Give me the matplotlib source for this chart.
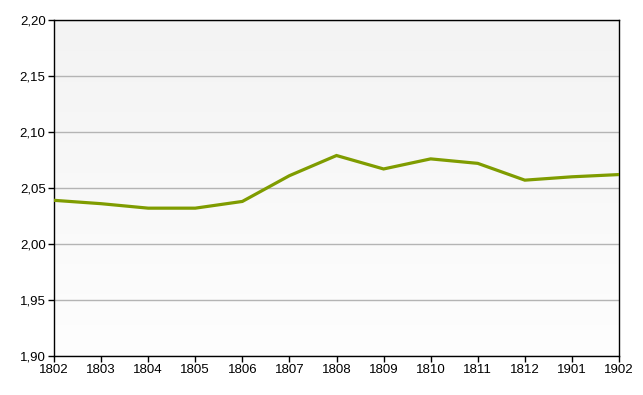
import numpy as np
import matplotlib
matplotlib.use('Agg')
import matplotlib.pyplot as plt
from matplotlib.ticker import FuncFormatter

years = ['1802', '1803', '1804', '1805', '1806', '1807', '1808',
         '1809', '1810', '1811', '1812', '1901', '1902']
values = [2.039, 2.036, 2.032, 2.032, 2.038, 2.061, 2.079,
          2.067, 2.076, 2.072, 2.057, 2.060, 2.062]
y_ticks = [1.90, 1.95, 2.00, 2.05, 2.10, 2.15, 2.20]

plt.rcParams['font.family'] = ['Liberation Sans', 'DejaVu Sans']

fig = plt.figure(figsize=(6.43, 3.95), dpi=100)
ax = fig.add_axes([54 / 643, 1 - 356 / 395, 565 / 643, 336 / 395])

# soft gray-to-white gradient behind the plot
grad = np.linspace(0, 1, 256).reshape(-1, 1)
ax.imshow(grad, extent=[0, 1, 0, 1], transform=ax.transAxes,
          cmap=matplotlib.colors.LinearSegmentedColormap.from_list(
              'bg', ['#fefefe', '#f3f3f3']),
          aspect='auto', origin='lower', zorder=0)

x = np.arange(len(years))
ax.plot(x, values, color='#7f9c00', linewidth=2.3, solid_joinstyle='miter', zorder=3)

ax.set_xlim(0, len(years) - 1)
ax.set_ylim(1.90, 2.20)
ax.set_xticks(x)
ax.set_xticklabels(years)
ax.set_yticks(y_ticks)
ax.yaxis.set_major_formatter(FuncFormatter(lambda v, p: f'{v:.2f}'.replace('.', ',')))

ax.grid(axis='y', color='#b4b4b4', linewidth=1, zorder=1)
ax.set_axisbelow(True)
for s in ax.spines.values():
    s.set_color('black')
    s.set_linewidth(1)
ax.tick_params(axis='both', direction='out', length=4, width=1,
               labelsize=9.5, colors='black', pad=2)

fig.savefig('out.png', dpi=100)
